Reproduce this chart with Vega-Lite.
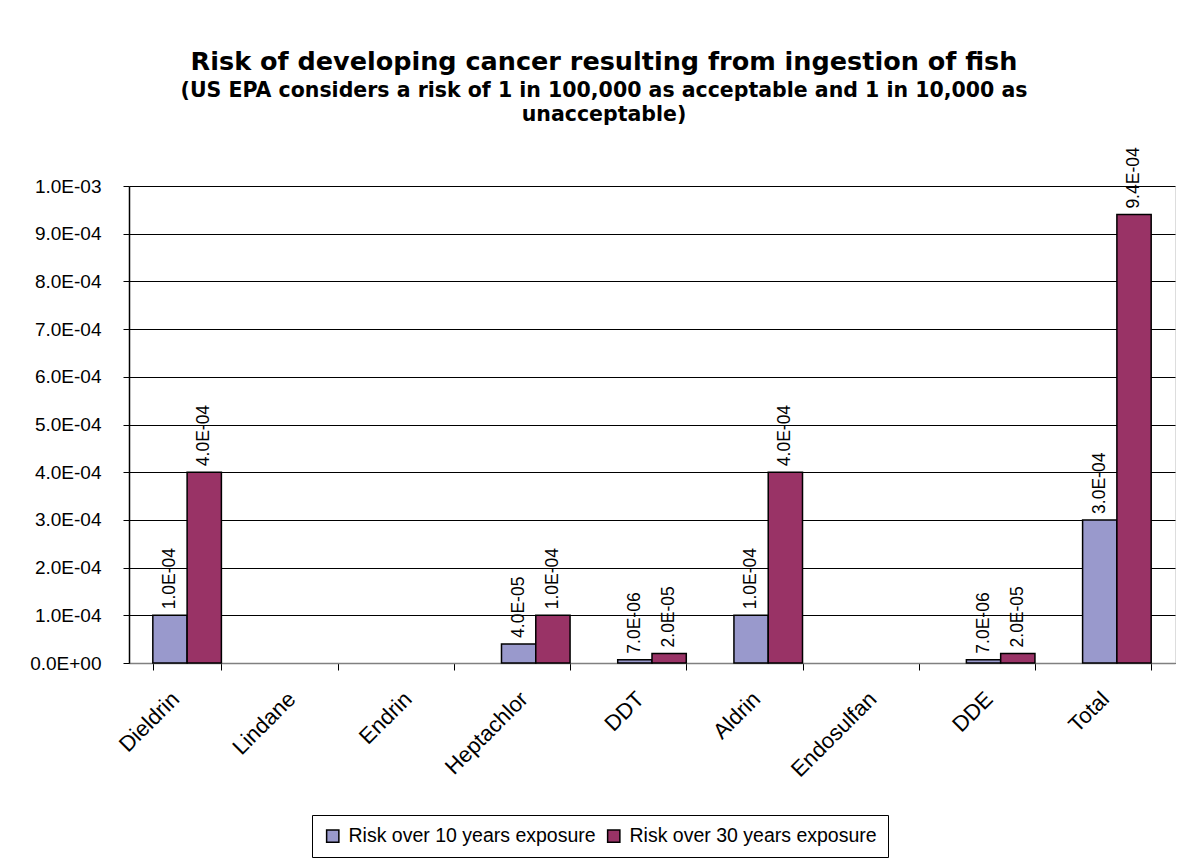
{
  "$schema": "https://vega.github.io/schema/vega-lite/v6.json",
  "width": 1046,
  "height": 477,
  "autosize": "none",
  "padding": {"left": 129, "top": 186, "right": 17, "bottom": 202},
  "background": "white",
  "title": {
    "text": "Risk of developing cancer resulting from ingestion of fish",
    "subtitle": ["(US EPA considers a risk of 1 in 100,000 as acceptable and 1 in 10,000 as", "unacceptable)"],
    "anchor": "middle",
    "dx": -48,
    "offset": 22,
    "font": "DejaVu Sans",
    "fontSize": 25.5,
    "fontWeight": "bold",
    "color": "black",
    "subtitleFont": "DejaVu Sans",
    "subtitleFontSize": 20.5,
    "subtitleFontWeight": "bold",
    "subtitleColor": "black",
    "subtitleLineHeight": 24,
    "subtitlePadding": 5
  },
  "data": {
    "values": [
      {"chemical": "Dieldrin", "series": "Risk over 10 years exposure", "risk": 0.0001},
      {"chemical": "Dieldrin", "series": "Risk over 30 years exposure", "risk": 0.0004},
      {"chemical": "Lindane", "series": "Risk over 10 years exposure", "risk": null},
      {"chemical": "Lindane", "series": "Risk over 30 years exposure", "risk": null},
      {"chemical": "Endrin", "series": "Risk over 10 years exposure", "risk": null},
      {"chemical": "Endrin", "series": "Risk over 30 years exposure", "risk": null},
      {"chemical": "Heptachlor", "series": "Risk over 10 years exposure", "risk": 0.00004},
      {"chemical": "Heptachlor", "series": "Risk over 30 years exposure", "risk": 0.0001},
      {"chemical": "DDT", "series": "Risk over 10 years exposure", "risk": 0.000007},
      {"chemical": "DDT", "series": "Risk over 30 years exposure", "risk": 0.00002},
      {"chemical": "Aldrin", "series": "Risk over 10 years exposure", "risk": 0.0001},
      {"chemical": "Aldrin", "series": "Risk over 30 years exposure", "risk": 0.0004},
      {"chemical": "Endosulfan", "series": "Risk over 10 years exposure", "risk": null},
      {"chemical": "Endosulfan", "series": "Risk over 30 years exposure", "risk": null},
      {"chemical": "DDE", "series": "Risk over 10 years exposure", "risk": 0.000007},
      {"chemical": "DDE", "series": "Risk over 30 years exposure", "risk": 0.00002},
      {"chemical": "Total", "series": "Risk over 10 years exposure", "risk": 0.0003},
      {"chemical": "Total", "series": "Risk over 30 years exposure", "risk": 0.00094}
    ]
  },
  "encoding": {
    "x": {
      "field": "chemical",
      "type": "nominal",
      "title": null,
      "scale": {
        "domain": ["Dieldrin", "Lindane", "Endrin", "Heptachlor", "DDT", "Aldrin", "Endosulfan", "DDE", "Total"],
        "paddingInner": 0.41,
        "paddingOuter": 0.205
      },
      "axis": {
        "labelAngle": -45,
        "labelAlign": "right",
        "labelBaseline": "top",
        "labelFont": "Liberation Sans",
        "labelFontSize": 22,
        "labelColor": "black",
        "labelPadding": 18,
        "labelOffset": -19,
        "domainColor": "#808080",
        "domainWidth": 1.5,
        "tickColor": "black",
        "tickWidth": 1,
        "tickSize": 7,
        "tickBand": "extent",
        "grid": false
      }
    },
    "xOffset": {"field": "series", "type": "nominal", "sort": null},
    "y": {
      "field": "risk",
      "type": "quantitative",
      "title": null,
      "scale": {"domain": [0, 0.001], "nice": false},
      "axis": {
        "values": [0, 0.0001, 0.0002, 0.0003, 0.0004, 0.0005, 0.0006, 0.0007, 0.0008, 0.0009, 0.001],
        "labelExpr": "replace(replace(upper(format(datum.value, '.1e')), 'E-', 'E-0'), 'E+', 'E+0')",
        "labelFont": "Liberation Sans",
        "labelFontSize": 19,
        "labelColor": "black",
        "labelPadding": 22,
        "tickSize": 6,
        "tickColor": "black",
        "domainColor": "black",
        "domainWidth": 1.5,
        "gridColor": "black",
        "gridWidth": 1
      }
    }
  },
  "layer": [
    {
      "mark": {"type": "bar", "stroke": "black", "strokeWidth": 1.5},
      "encoding": {
        "color": {
          "field": "series",
          "type": "nominal",
          "scale": {"domain": ["Risk over 10 years exposure", "Risk over 30 years exposure"], "range": ["#9999CC", "#993366"]},
          "legend": {
            "title": null,
            "orient": "none",
            "legendX": 183,
            "legendY": 629,
            "direction": "horizontal",
            "labelFont": "Liberation Sans",
            "labelFontSize": 19.5,
            "labelColor": "black",
            "labelLimit": 0,
            "symbolType": "square",
            "symbolSize": 150,
            "symbolStrokeColor": "black",
            "symbolStrokeWidth": 1.5,
            "symbolOpacity": 1,
            "columnPadding": 8,
            "labelOffset": 6,
            "padding": 11,
            "strokeColor": "black",
            "fillColor": "white"
          }
        }
      }
    },
    {
      "transform": [
        {"filter": "isValid(datum.risk) && datum.risk > 0"},
        {"calculate": "replace(replace(upper(format(datum.risk, '.1e')), 'E-', 'E-0'), 'E+', 'E+0')", "as": "label"}
      ],
      "mark": {
        "type": "text",
        "angle": -90,
        "align": "left",
        "baseline": "middle",
        "dx": 6,
        "font": "Liberation Sans",
        "fontSize": 17.5,
        "color": "black"
      },
      "encoding": {
        "text": {"field": "label", "type": "nominal"}
      }
    }
  ]
}
